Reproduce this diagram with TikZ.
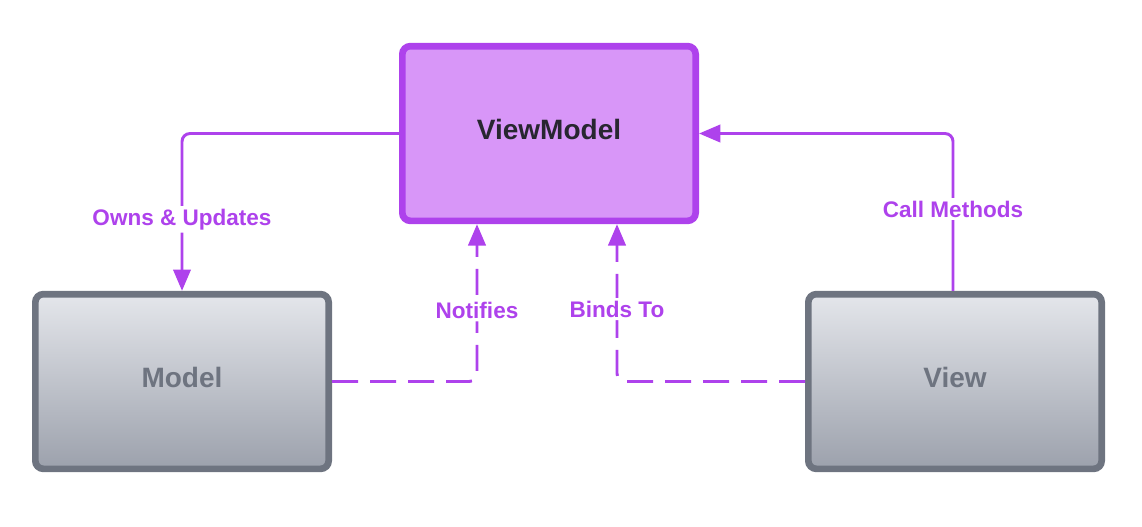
\documentclass[tikz,border=0pt]{standalone}
\usepackage{fontspec}
\setmainfont{Liberation Sans}
\usepackage{tikz}
\usetikzlibrary{arrows.meta, positioning, calc}
\usepackage{xcolor}
\definecolor{VMPurple}{RGB}{174,66,236}
\definecolor{VMFill}{RGB}{216,150,248}
\definecolor{BoxGray}{RGB}{110,116,128}
\definecolor{GrayTop}{RGB}{228,230,235}
\definecolor{GrayBottom}{RGB}{156,161,172}
\definecolor{DarkText}{RGB}{40,38,48}

\begin{document}
\begin{tikzpicture}[
  x=0.75pt, y=-0.75pt,
  font=\bfseries,
  vmbox/.style={draw=VMPurple, line width=5pt, rounded corners=6pt, minimum width=220pt, minimum height=131pt, text depth=6pt, align=center, fill=VMFill, text=DarkText, font=\bfseries\fontsize{21}{25}\selectfont},
  graybox/.style={draw=BoxGray, line width=5pt, rounded corners=6pt, minimum width=220pt, minimum height=131pt, text depth=6pt, align=center, top color=GrayTop, bottom color=GrayBottom, text=BoxGray, font=\bfseries\fontsize{21}{25}\selectfont},
  arr/.style={-{Triangle[length=16pt, width=13pt]}, line width=2.2pt, draw=VMPurple, rounded corners=6pt},
  dasharr/.style={arr, dash pattern=on 19.5pt off 9pt},
  lbl/.style={fill=white, text=VMPurple, inner sep=2pt, font=\bfseries\fontsize{16.9}{20}\selectfont}
]
  \useasboundingbox (0,0) rectangle (1142,526);

  \node[vmbox] (vm) at (549,133.5) {ViewModel};
  \node[graybox] (model) at (182,381.5) {Model};
  \node[graybox] (view) at (955,381.5) {View};

  \coordinate (cm) at (953,0);
  \coordinate (nt) at (477,0);
  \coordinate (bt) at (617,0);

  \draw[arr] (vm.west) -| node[lbl, pos=0.773] {Owns \& Updates} (model.north);
  \draw[arr] (view.north -| cm) |- node[lbl, pos=0.26] {Call Methods} (vm.east);
  \draw[dasharr] (model.east) -| node[lbl, pos=0.726] {Notifies} (vm.south -| nt);
  \draw[dasharr] (view.west) -| node[lbl, pos=0.73] {Binds To} (vm.south -| bt);
\end{tikzpicture}
\end{document}
